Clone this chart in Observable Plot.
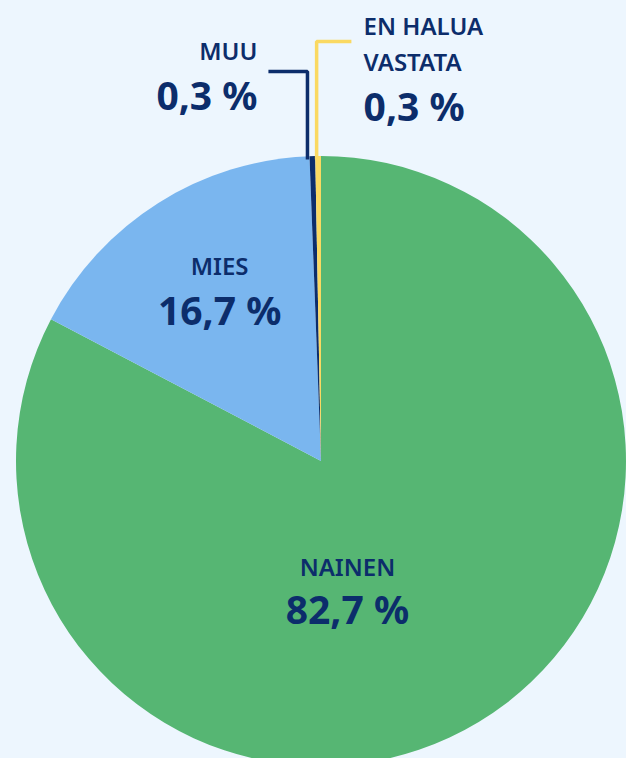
<!DOCTYPE html>
<html>
<head>
<meta charset="utf-8">
<script src="https://cdn.jsdelivr.net/npm/d3@7"></script>
<script src="https://cdn.jsdelivr.net/npm/@observablehq/plot@0.6"></script>
<style>
  html, body { margin: 0; padding: 0; background: #EDF6FE; overflow: hidden; }
  #chart svg { display: block; }
</style>
</head>
<body>
<div id="chart"></div>
<script>
// ---- data ----
const categories = ["NAINEN", "MIES", "MUU", "EN HALUA\nVASTATA"];
const values = [82.7, 16.7, 0.3, 0.3];
const valueLabels = ["82,7 %", "16,7 %", "0,3 %", "0,3 %"];
const colors = ["#56B673", "#7AB6EF", "#0C2D6B", "#FAD962"];

// ---- layout (chart units: pie centre = 0,0, radius = 100) ----
const labelLayout = [
  {x: 8.5,   yName: 37.6,   yValue: 53.4,   anchor: "middle"},
  {x: -33.4, yName: -61.0,  yValue: -44.6,  anchor: "middle"},
  {x: -21.0, yName: -131.5, yValue: -115.1, anchor: "end"},
  {x: 13.8,  yName: -127.9, yValue: -111.6, anchor: "start"}
];
const leaderLayout = [
  null, null,
  {x: -4.6, elbowY: -127.9, endX: -17.4},
  {x: -1.6, elbowY: -137.7, endX: 9.8}
];

const data = categories.map((c, i) => ({label: c, value: values[i], valueLabel: valueLabels[i], color: colors[i], ...labelLayout[i]}));

const leaders = [];
data.forEach((d, i) => {
  const L = leaderLayout[i];
  if (!L) return;
  leaders.push({key: d.label, color: d.color, x: L.x, y: -99});
  leaders.push({key: d.label, color: d.color, x: L.x, y: L.elbowY});
  leaders.push({key: d.label, color: d.color, x: L.endX, y: L.elbowY});
});

function pieMark(rows) {
  return (index, scales) => {
    const cx = scales.x(0), cy = scales.y(0);
    const r = scales.x(100) - scales.x(0);
    const arcs = d3.pie().sort(null).value(d => d.value)(rows);
    const arc = d3.arc().innerRadius(0).outerRadius(r);
    const g = d3.create("svg:g").attr("transform", `translate(${cx},${cy})`);
    g.selectAll("path").data(arcs).join("path")
      .attr("d", arc)
      .attr("fill", d => d.data.color);
    return g.node();
  };
}

const W = 626, H = 758, R = 305, CX = 321, CY = 461;
const font = "'Noto Sans', sans-serif";
const ink = "#0C2D6B";

const textMarks = ["middle", "end", "start"].flatMap(anchor => {
  const rows = data.filter(d => d.anchor === anchor);
  return [
    Plot.text(rows, {x: "x", y: "yName", text: "label", textAnchor: anchor, lineAnchor: "bottom", lineHeight: 1.5,
      fill: ink, fontSize: 24, fontWeight: 600, fontFamily: font}),
    Plot.text(rows, {x: "x", y: "yValue", text: "valueLabel", textAnchor: anchor, lineAnchor: "bottom",
      fill: ink, fontSize: 39, fontWeight: 700, fontFamily: font})
  ];
});

const chart = Plot.plot({
  width: W,
  height: H,
  margin: 0,
  style: {background: "#EDF6FE", fontFamily: font, overflow: "hidden"},
  x: {domain: [-CX / R * 100, (W - CX) / R * 100], range: [0, W], axis: null},
  y: {domain: [-CY / R * 100, (H - CY) / R * 100], range: [0, H], axis: null},
  marks: [
    pieMark(data),
    Plot.line(leaders, {x: "x", y: "y", z: "key", stroke: "color", strokeWidth: 3.5, strokeLinejoin: "miter", strokeLinecap: "butt", curve: "linear"}),
    ...textMarks
  ]
});
document.getElementById("chart").appendChild(chart);
</script>
</body>
</html>
